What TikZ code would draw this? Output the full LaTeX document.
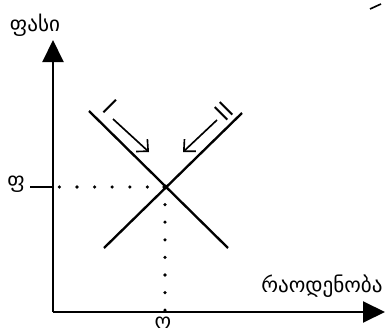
\documentclass[tikz,border=0pt]{standalone}
\usepackage{fontspec}
\usepackage{tikz}
\usetikzlibrary{arrows.meta}
\newfontfamily\geofont{DejaVu Sans}

\tikzset{
  axis/.style={line width=1.7pt, -{Triangle[width=0.63cm, length=0.66cm]}},
  curve/.style={line width=2pt},
  shift arrow/.style={line width=1.4pt, -{Straight Barb[length=2.6mm, width=5mm]}},
  dotline/.style={line width=3pt, line cap=round, dash pattern=on 0pt off 0.528cm},
  geolabel/.style={font=\geofont\fontsize{18}{20}\selectfont, inner sep=0pt},
  roman/.style={font=\sffamily\fontsize{22}{24}\selectfont, inner sep=0pt}
}

\begin{document}
\begin{tikzpicture}[x=0.03cm, y=-0.03cm]
  \useasboundingbox (0,0) rectangle (385,335);

  % Axes
  \coordinate (O) at (53,312);
  \coordinate (ytop) at (53,40);
  \coordinate (xend) at (385,312);
  \draw[axis] (O) -- (ytop);
  \draw[axis] (O) -- (xend);
  \node[geolabel] (price) at (35,25) {ფასი};
  \node[geolabel] (qty) at (322,286) {რაოდენობა};

  % Lines I and II
  \coordinate (i1) at (89,111);
  \coordinate (i2) at (228,248);
  \coordinate (ii1) at (242,113);
  \coordinate (ii2) at (104,248);
  \coordinate (E) at (165,187);
  \draw[curve] (i1) -- (i2);
  \draw[curve] (ii1) -- (ii2);
  \fill (E) circle (2.6);

  % Shift arrows
  \node[roman, rotate=-45] (labI) at (110,107) {I};
  \node[roman, rotate=45] (labII) at (224,111) {II};
  \coordinate (a1) at (113,119);
  \coordinate (a2) at (149,152);
  \coordinate (b1) at (217,120);
  \coordinate (b2) at (183,152);
  \draw[shift arrow] (a1) -- (a2);
  \draw[shift arrow] (b1) -- (b2);

  % Equilibrium
  \coordinate (Ey) at (53,187);
  \coordinate (Ex) at (165,312);
  \coordinate (tick) at (30,187);
  \draw[dotline] (E) -- (Ey);
  \draw[dotline] (E) -- (Ex);
  \draw[line width=1.6pt] (tick) -- (Ey);
  \node[geolabel] (pE) at (16,184) {ფ};
  \node[geolabel] (qE) at (163,323) {ო};

  % stray mark
  \coordinate (m1) at (370,9);
  \coordinate (m2) at (381,4);
  \draw[line width=1.4pt] (m1) -- (m2);
\end{tikzpicture}
\end{document}
